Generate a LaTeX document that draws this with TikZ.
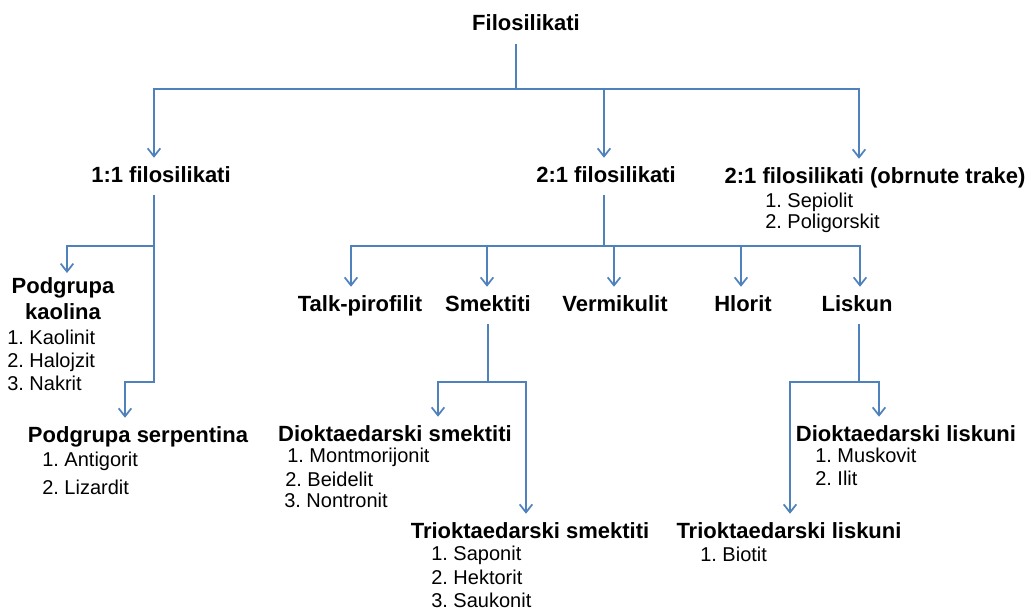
\documentclass[tikz,border=0pt]{standalone}
\usepackage{fontspec}
\setmainfont{Liberation Sans}
\usetikzlibrary{arrows.meta}
\definecolor{linec}{RGB}{79,129,189}
\frenchspacing
\begin{document}
\begin{tikzpicture}[x=0.75pt,y=-0.75pt,
  hd/.style={font=\bfseries\fontsize{16.5}{19.5}\selectfont, inner xsep=0pt, inner ysep=6pt, text height=12pt, text depth=3.5pt, anchor=base},
  hdm/.style={font=\bfseries\fontsize{16.5}{19.5}\selectfont, inner sep=0pt, align=center, anchor=north},
  li/.style={font=\fontsize{15}{18}\selectfont, inner sep=0pt, anchor=base west},
  ln/.style={draw=linec, line width=1.3pt},
  arr/.style={ln, -{Straight Barb[length=6pt,width=9.5pt,line width=1.3pt]}}]
\useasboundingbox (0,0) rectangle (1031,610);

% nodes
\node[hd] (root) at (526,31) {Filosilikati};
\node[hd] (a) at (161,182) {1:1 filosilikati};
\node[hd] (b) at (606,182) {2:1 filosilikati};
\node[hd] (c) at (875,183) {2:1 filosilikati (obrnute trake)};
\node[li] (c1) at (765,207) {1. Sepiolit};
\node[li] (c2) at (765,228) {2. Poligorskit};

\node[hdm] (k) at (63,277) {Podgrupa\\kaolina};
\node[li] (k1) at (7,344) {1. Kaolinit};
\node[li] (k2) at (7,367) {2. Halojzit};
\node[li] (k3) at (7,390) {3. Nakrit};
\node[hd] (s) at (138,442) {Podgrupa serpentina};
\node[li] (s1) at (42,466) {1. Antigorit};
\node[li] (s2) at (42,494) {2. Lizardit};

\node[hd] (t) at (360,311) {Talk-pirofilit};
\node[hd] (sm) at (488,311) {Smektiti};
\node[hd] (v) at (615,311) {Vermikulit};
\node[hd] (h) at (743,311) {Hlorit};
\node[hd] (l) at (857,311) {Liskun};

\node[hd] (ds) at (395,441) {Dioktaedarski smektiti};
\node[li] (ds1) at (287,462) {1. Montmorijonit};
\node[li] (ds2) at (285,486) {2. Beidelit};
\node[li] (ds3) at (284,507) {3. Nontronit};
\node[hd] (ts) at (530,538) {Trioktaedarski smektiti};
\node[li] (ts1) at (431,560) {1. Saponit};
\node[li] (ts2) at (431,584) {2. Hektorit};
\node[li] (ts3) at (431,607) {3. Saukonit};

\node[hd] (dl) at (906,441) {Dioktaedarski liskuni};
\node[li] (dl1) at (815,462) {1. Muskovit};
\node[li] (dl2) at (815,485) {2. Ilit};
\node[hd] (tl) at (789,538) {Trioktaedarski liskuni};
\node[li] (tl1) at (700,561) {1. Biotit};

% column x positions and junctions
\coordinate (j0) at (516,89);
\coordinate (xa) at (154,0);
\coordinate (xb) at (604,0);
\coordinate (xc) at (859,0);
\coordinate (ja1) at (154,246);
\coordinate (ja2) at (154,382);
\coordinate (xk) at (67,0);
\coordinate (xs) at (125,0);
\coordinate (jb) at (604,246);
\coordinate (xt) at (351,0);
\coordinate (xsm) at (487,0);
\coordinate (xv) at (614,0);
\coordinate (xh) at (741,0);
\coordinate (xl) at (860,0);
\coordinate (jsm) at (488,382);
\coordinate (xds) at (438,0);
\coordinate (xts) at (526,0);
\coordinate (jl) at (859,382);
\coordinate (xdl) at (879,0);
\coordinate (xtl) at (790,0);

% top level
\draw[ln] (root.south -| j0) -- (j0);
\draw[arr] (j0) -| (xa |- a.north);
\draw[arr] (j0) -| (xc |- c.north);
\draw[arr] (xb |- j0) -- (xb |- b.north);

% 1:1 subtree
\draw[arr] (xa |- a.south) -- (ja2) -| (xs |- s.north);
\draw[arr, shorten >=3pt] (ja1) -| (xk |- k.north);

% 2:1 subtree
\draw[ln] (xb |- b.south) -- (jb);
\draw[arr] (jb) -| (xt |- t.north);
\draw[arr] (jb) -| (xl |- l.north);
\draw[arr] (xsm |- jb) -- (xsm |- sm.north);
\draw[arr] (xv |- jb) -- (xv |- v.north);
\draw[arr] (xh |- jb) -- (xh |- h.north);

% Smektiti subtree
\draw[ln] (jsm |- sm.south) -- (jsm);
\draw[arr] (jsm) -| (xds |- ds.north);
\draw[arr] (jsm) -| (xts |- ts.north);

% Liskun subtree
\draw[ln] (jl |- l.south) -- (jl);
\draw[arr] (jl) -| (xdl |- dl.north);
\draw[arr] (jl) -| (xtl |- tl.north);
\end{tikzpicture}
\end{document}
